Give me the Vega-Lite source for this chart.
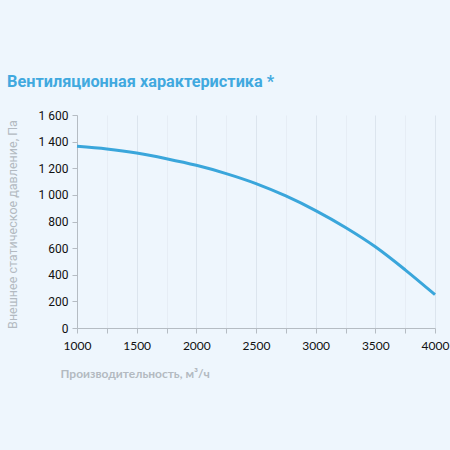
{
  "$schema": "https://vega.github.io/schema/vega-lite/v6.json",
  "autosize": "none",
  "width": 358,
  "height": 213,
  "padding": {"left": 77, "top": 115, "right": 15, "bottom": 122},
  "background": "#EEF6FD",
  "title": {
    "text": "Вентиляционная характеристика *",
    "anchor": "start",
    "frame": "group",
    "dx": -70,
    "offset": 19,
    "font": "Roboto",
    "fontSize": 16.3,
    "fontWeight": "bold",
    "color": "#41A9DF"
  },
  "data": {
    "values": [
      {"flow": 1000, "pressure": 1365},
      {"flow": 1250, "pressure": 1345},
      {"flow": 1500, "pressure": 1315},
      {"flow": 1750, "pressure": 1272},
      {"flow": 2000, "pressure": 1222},
      {"flow": 2250, "pressure": 1160},
      {"flow": 2500, "pressure": 1085},
      {"flow": 2750, "pressure": 992},
      {"flow": 3000, "pressure": 882},
      {"flow": 3250, "pressure": 755},
      {"flow": 3500, "pressure": 610},
      {"flow": 3750, "pressure": 437},
      {"flow": 4000, "pressure": 250}
    ]
  },
  "mark": {"type": "line", "interpolate": "monotone", "color": "#3AA6DB", "strokeWidth": 3},
  "encoding": {
    "x": {
      "field": "flow",
      "type": "quantitative",
      "scale": {"domain": [1000, 4000], "nice": false},
      "axis": {
        "title": "Производительность, м³/ч",
        "values": [1000, 1250, 1500, 1750, 2000, 2250, 2500, 2750, 3000, 3250, 3500, 3750, 4000],
        "format": "d",
        "labelExpr": "datum.value % 500 === 0 ? datum.label : ''",
        "labelFont": "Lato",
        "labelFontSize": 12,
        "labelColor": "#111111",
        "labelPadding": 7,
        "labelFlush": false,
        "domainColor": "#B5BCC3",
        "tickColor": "#B5BCC3",
        "tickSize": 5,
        "grid": true,
        "gridColor": {"condition": {"test": "datum.value % 500 === 0", "value": "#DCE5EE"}, "value": "#E6EDF5"},
        "titleFont": "Lato",
        "titleFontSize": 12,
        "titleFontWeight": "bold",
        "titleColor": "#B3BAC1",
        "titleAlign": "left",
        "titleBaseline": "middle",
        "titleX": -17,
        "titleY": 45
      }
    },
    "y": {
      "field": "pressure",
      "type": "quantitative",
      "scale": {"domain": [0, 1600], "nice": false},
      "axis": {
        "title": "Внешнее статическое давление, Па",
        "values": [0, 200, 400, 600, 800, 1000, 1200, 1400, 1600],
        "format": ",d",
        "labelExpr": "replace(datum.label, ',', ' ')",
        "labelFont": "Roboto",
        "labelFontSize": 12,
        "labelColor": "#111111",
        "labelPadding": 4,
        "domainColor": "#B5BCC3",
        "tickColor": "#B5BCC3",
        "tickSize": 5,
        "grid": false,
        "titleFont": "Roboto",
        "titleFontSize": 12.5,
        "titleFontWeight": "normal",
        "titleColor": "#B3BAC1",
        "titleAngle": -90,
        "titleAlign": "center",
        "titleBaseline": "middle",
        "titleX": -65,
        "titleY": 109
      }
    }
  },
  "config": {"view": {"stroke": null}}
}
